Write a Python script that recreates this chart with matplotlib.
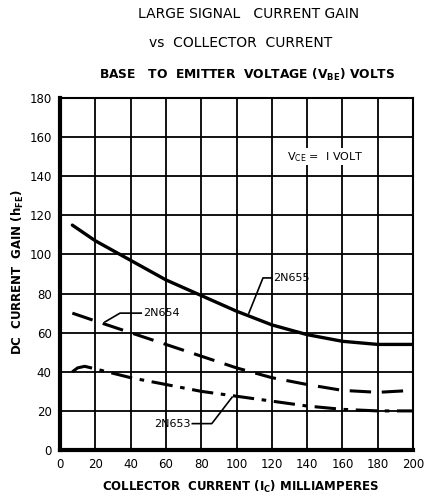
import numpy as np
import matplotlib.pyplot as plt

# Data (collector current in mA, DC gain hFE)
ic_655 = [7, 20, 40, 60, 80, 100, 120, 140, 160, 180, 200]
hfe_655 = [115, 107, 97, 87, 79, 71, 64, 59, 55.6, 54, 54]

ic_654 = [7, 20, 40, 60, 80, 100, 120, 140, 160, 180, 200]
hfe_654 = [70, 66, 60, 54, 48, 42, 37, 33.5, 30.5, 29.5, 30.5]

ic_653 = [7, 10, 14, 20, 40, 60, 80, 100, 120, 140, 160, 180, 200]
hfe_653 = [40, 42, 42.8, 41.5, 37, 33.5, 30, 27.5, 25, 22.5, 20.8, 20, 20]

x_ticks = list(range(0, 201, 20))
y_ticks = list(range(0, 181, 20))

fig = plt.figure(figsize=(4.3, 4.96), dpi=100)
ax = fig.add_axes([0.1395, 0.0927, 0.821, 0.7097])

# Curves
ax.plot(ic_655, hfe_655, color='black', lw=2.4, solid_capstyle='round')
ax.plot(ic_654, hfe_654, color='black', lw=2.2, dashes=(7, 3.5))
ax.plot(ic_653, hfe_653, color='black', lw=2.2, dashes=(7, 2.5, 1.5, 2.5))

# Leader lines and curve labels
ax.plot([107, 115, 120], [70, 88, 88], color='black', lw=1.2)
ax.text(121, 88, '2N655', fontsize=8, va='center', ha='left')
ax.plot([25.5, 34, 46], [65.5, 70, 70], color='black', lw=1.2)
ax.text(47, 70, '2N654', fontsize=8, va='center', ha='left')
ax.plot([75, 86, 97.5], [13.5, 13.5, 27], color='black', lw=1.2)
ax.text(74, 13.5, '2N653', fontsize=8, va='center', ha='right')

ax.text(150, 150, r'V$_{\mathregular{CE}}$ =  I VOLT', fontsize=8,
        ha='center', va='center',
        bbox=dict(facecolor='white', edgecolor='none', pad=1))

ax.set_xlim(0, 200)
ax.set_ylim(0, 180)
ax.set_xticks(x_ticks)
ax.set_yticks(y_ticks)
ax.grid(True, color='black', lw=1.3)
ax.set_axisbelow(True)
ax.tick_params(length=0, labelsize=8.5, pad=6)
for s in ['left', 'bottom']:
    ax.spines[s].set_linewidth(3)
for s in ['top', 'right']:
    ax.spines[s].set_linewidth(1.5)

# Axis labels placed by hand so they stay inside the figure
fig.text(0.56, 0.018, r'COLLECTOR  CURRENT (I$_{\mathregular{C}}$) MILLIAMPERES',
         fontsize=8.5, fontweight='bold', ha='center', va='center')
fig.text(0.042, 0.452, r'DC  CURRENT  GAIN (h$_{\mathregular{FE}}$)',
         fontsize=8.5, fontweight='bold', ha='center', va='center', rotation=90)

fig.text(0.577, 0.972, 'LARGE SIGNAL   CURRENT GAIN', fontsize=10, ha='center', va='center')
fig.text(0.56, 0.913, 'vs  COLLECTOR  CURRENT', fontsize=10, ha='center', va='center')
fig.text(0.575, 0.849, r'BASE   TO  EMITTER  VOLTAGE (V$_{\mathregular{BE}}$) VOLTS',
         fontsize=8.8, fontweight='bold', ha='center', va='center')

fig.savefig('out.png', dpi=100)
